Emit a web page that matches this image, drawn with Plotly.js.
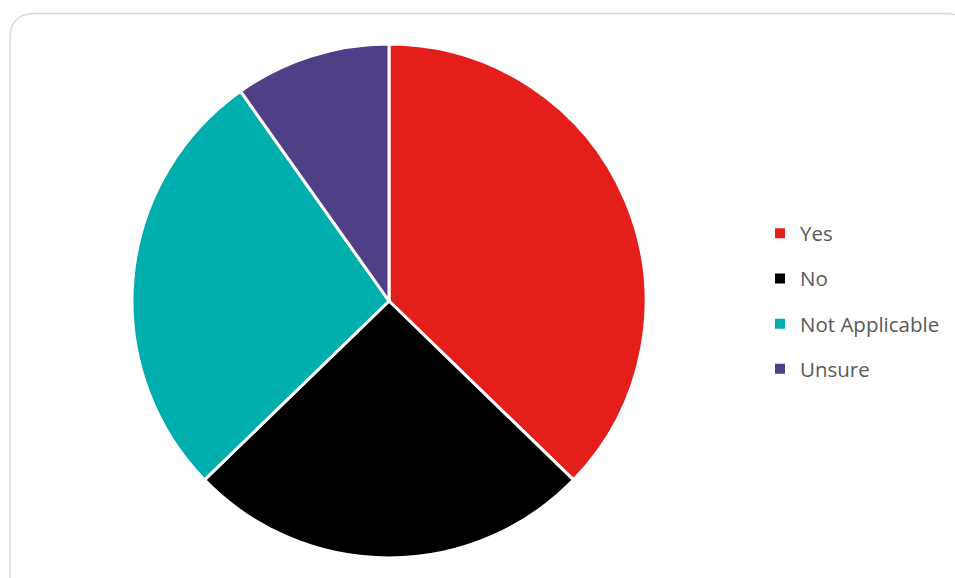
<!DOCTYPE html>
<html>
<head>
<meta charset="utf-8">
<script src="https://cdn.plot.ly/plotly-3.0.1.min.js"></script>
<style>html,body{margin:0;padding:0;background:#fff;}#chart{width:955px;height:578px;}</style>
</head>
<body>
<div id="chart"></div>
<script>
const labels = ["Yes", "No", "Not Applicable", "Unsure"];
const values = [38, 26, 28, 10];
const colors = ["#E31E1B", "#000000", "#00AEAD", "#4E3F86"];

const traces = [{
  type: "pie",
  labels: labels,
  values: values,
  sort: false,
  direction: "clockwise",
  rotation: 0,
  textinfo: "none",
  hoverinfo: "label+value+percent",
  showlegend: false,
  marker: {colors: colors, line: {color: "#ffffff", width: 3}},
  domain: {x: [132/955, 646/955], y: [20/578, 534/578]}
}];
labels.forEach((l, i) => {
  traces.push({
    type: "scatter", mode: "markers", x: [null], y: [null],
    name: l, legendgroup: "g" + i, showlegend: true,
    marker: {symbol: "square", size: 10, color: colors[i]},
    hoverinfo: "skip"
  });
});

const W = 955, H = 578;
const L = 10/W, R = 970/W, T = 1 - 13.5/H, B = -0.1, rx = 25/W, ry = 25/H;
const framePath = `M${L},${B} L${L},${T-ry} Q${L},${T} ${L+rx},${T} L${R-rx},${T} Q${R},${T} ${R},${T-ry} L${R},${B}`;

const layout = {
  width: W, height: H,
  margin: {l: 0, r: 0, t: 0, b: 0},
  paper_bgcolor: "#ffffff", plot_bgcolor: "#ffffff",
  xaxis: {visible: false}, yaxis: {visible: false},
  showlegend: true,
  legend: {
    x: 760/W, xanchor: "left", y: 1 - 301.5/H, yanchor: "middle",
    font: {family: "Open Sans, sans-serif", size: 20.5, color: "#595959"},
    tracegroupgap: 15.5, traceorder: "grouped", bgcolor: "rgba(0,0,0,0)"
  },
  shapes: [{type: "path", xref: "paper", yref: "paper", path: framePath,
            line: {color: "#D9D9D9", width: 1.5}, fillcolor: "rgba(0,0,0,0)", layer: "below"}]
};
Plotly.newPlot("chart", traces, layout, {displayModeBar: false, staticPlot: true});
</script>
</body>
</html>
